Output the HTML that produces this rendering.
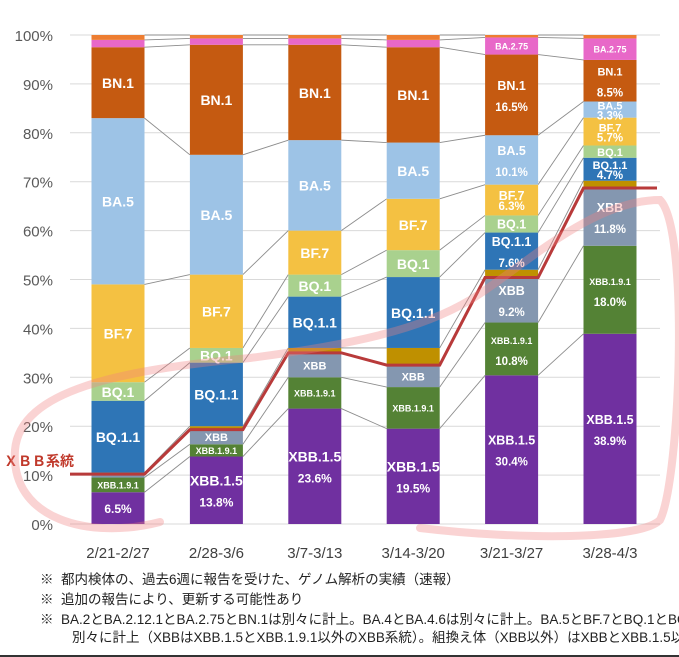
<!DOCTYPE html>
<html><head><meta charset="utf-8">
<style>
body{margin:0;width:679px;height:657px;background:#fff;overflow:hidden;position:relative;font-family:"Liberation Sans","Noto Sans CJK JP",sans-serif}
svg{position:absolute;left:0;top:0}
#notes{position:absolute;left:0;top:0;width:679px;height:657px;overflow:hidden}
.note{position:absolute;left:40px;font-size:13.5px;color:#222;white-space:nowrap;font-family:"Liberation Sans","Noto Sans CJK JP",sans-serif}
</style></head>
<body>
<svg id="chart" width="679" height="657"></svg>
<div id="notes">
<div class="note" style="top:568px">※&nbsp; 都内検体の、過去6週に報告を受けた、ゲノム解析の実績（速報）</div>
<div class="note" style="top:588px">※&nbsp; 追加の報告により、更新する可能性あり</div>
<div class="note" style="top:608px">※&nbsp; BA.2とBA.2.12.1とBA.2.75とBN.1は別々に計上。BA.4とBA.4.6は別々に計上。BA.5とBF.7とBQ.1とBQ.1.1は</div>
<div class="note" style="top:626px;left:72px">別々に計上（XBBはXBB.1.5とXBB.1.9.1以外のXBB系統）。組換え体（XBB以外）はXBBとXBB.1.5以外</div>
</div>
<div style="position:absolute;left:0;top:655px;width:679px;height:2px;background:#333"></div>
<script>
const categories=["2/21-2/27","2/28-3/6","3/7-3/13","3/14-3/20","3/21-3/27","3/28-4/3"];
const seriesNames=["XBB.1.5","XBB.1.9.1","XBB","Other recombinant","BQ.1.1","BQ.1","BF.7","BA.5","BN.1","BA.2.75","Other"];
const colors=["#7030a0","#548235","#8497b0","#bf9000","#2e75b6","#a9d18e","#f4c142","#9dc3e6","#c55a11","#e868c8","#ed7d31"];
const vXBB15=[6.5,13.8,23.6,19.5,30.4,38.9];
const vXBB191=[3.0,2.5,6.4,8.5,10.8,18.0];
const vXBB=[0.7,3.0,5.0,4.5,9.2,11.8];
const vRecomb=[0.3,0.7,1.0,3.5,1.6,1.5];
const vBQ11=[14.7,13.0,10.5,14.5,7.6,4.7];
const vBQ1=[3.8,3.0,4.5,5.5,3.5,2.5];
const vBF7=[20.0,15.0,9.0,10.5,6.3,5.7];
const vBA5=[34.0,24.5,18.5,11.5,10.1,3.3];
const vBN1=[14.5,22.5,19.5,19.5,16.5,8.5];
const vBA275=[1.5,1.3,1.3,1.5,3.5,4.4];
const vOther=[1.0,0.7,0.7,1.0,0.5,0.7];
const yTicks=[0,10,20,30,40,50,60,70,80,90,100];
const xbbLineLabel="ＸＢＢ系統";
const labelNames=[["","XBB.1.5","XBB.1.5","XBB.1.5","XBB.1.5","XBB.1.5"],
["XBB.1.9.1","XBB.1.9.1","XBB.1.9.1","XBB.1.9.1","XBB.1.9.1","XBB.1.9.1"],
["","XBB","XBB","XBB","XBB","XBB"],
["","","","","",""],
["BQ.1.1","BQ.1.1","BQ.1.1","BQ.1.1","BQ.1.1","BQ.1.1"],
["BQ.1","BQ.1","BQ.1","BQ.1","BQ.1","BQ.1"],
["BF.7","BF.7","BF.7","BF.7","BF.7","BF.7"],
["BA.5","BA.5","BA.5","BA.5","BA.5","BA.5"],
["BN.1","BN.1","BN.1","BN.1","BN.1","BN.1"],
["","","","","BA.2.75","BA.2.75"],
["","","","","",""]];
const pctShown=[[1,1,1,1,1,1],[0,0,0,0,1,1],[0,0,0,0,1,1],[0,0,0,0,0,0],[0,0,0,0,1,1],[0,0,0,0,0,0],[0,0,0,0,1,1],[0,0,0,0,1,1],[0,0,0,0,1,1],[0,0,0,0,0,0],[0,0,0,0,0,0]];
const series=[vXBB15,vXBB191,vXBB,vRecomb,vBQ11,vBQ1,vBF7,vBA5,vBN1,vBA275,vOther];

const NS="http://www.w3.org/2000/svg";
const svg=document.getElementById('chart');
const y=v=>524-v*4.89;
const xc=i=>118+i*98.4;
const BW=53;
function mk(t,a,p){const e=document.createElementNS(NS,t);for(const k in a)e.setAttribute(k,a[k]);(p||svg).appendChild(e);return e;}
yTicks.forEach(t=>{
  const g=mk('line',{x1:70,x2:660,y1:y(t),y2:y(t),stroke:'#d9d9d9','stroke-width':1});
  
  
  const l=mk('text',{x:53,y:y(t)+6,'text-anchor':'end','font-size':15,fill:'#595959'});
  l.textContent=t+'%';
  
  
});
const cum=categories.map((c,i)=>{let s=0;return series.map(ser=>{const b=s;s+=ser[i];return [b,s];});});
for(let i=0;i<categories.length-1;i++){
  for(let k=0;k<series.length;k++){
    const v=cum[i][k][1],w=cum[i+1][k][1];
    const c=mk('line',{x1:xc(i)+BW/2,y1:y(v),x2:xc(i+1)-BW/2,y2:y(w),stroke:'#8c8c8c','stroke-width':0.9});
    
    
  }
}
categories.forEach((cat,i)=>{
  series.forEach((ser,k)=>{
    const [b,t]=cum[i][k];
    const r=mk('rect',{x:xc(i)-BW/2,y:y(t),width:BW,height:Math.max(0,y(b)-y(t)),fill:colors[k]});
    
    
  });
  const xl=mk('text',{x:xc(i),y:558,'text-anchor':'middle','font-size':15,fill:'#404040'});
  xl.textContent=cat;
  
  
});
categories.forEach((cat,i)=>{
  series.forEach((ser,k)=>{
    const [b,t]=cum[i][k];const h=y(b)-y(t);const cy=(y(b)+y(t))/2;
    const name=labelNames[k][i];const pct=pctShown[k][i];
    const small=name.startsWith('XBB.1.9')||name==='BA.2.75'||(i==5&&k<9&&k>3)||name==='XBB'&&h<30;
    const fs=name.startsWith('XBB.1.9')?9:(name==='BA.2.75'?9:(small?11:(i>=4?12.5:14)));
    if(name&&pct){
      const a=mk('text',{x:xc(i),y:cy-(h>34?5:0),'text-anchor':'middle','font-size':fs,'font-weight':'bold',fill:'#fff'});
      a.textContent=name;
      
      
      const p=mk('text',{x:xc(i),y:cy+(h>34?16:10),'text-anchor':'middle','font-size':i>=4?11.5:12,'font-weight':'bold',fill:'#fff'});
      p.textContent=ser[i].toFixed(1)+'%';
      
      
    } else if(name){
      const a=mk('text',{x:xc(i),y:cy+fs*0.38,'text-anchor':'middle','font-size':fs,'font-weight':'bold',fill:'#fff'});
      a.textContent=name;
      
      
    } else if(pct){
      const p=mk('text',{x:xc(i),y:cy+5,'text-anchor':'middle','font-size':12,'font-weight':'bold',fill:'#fff'});
      p.textContent=ser[i].toFixed(1)+'%';
      
      
    }
  });
});
// XBB lineage red line (top of XBB band)
let pts=[[70,y(cum[0][2][1])]];
categories.forEach((c,i)=>{const v=y(cum[i][2][1]);pts.push([xc(i)-BW/2,v]);pts.push([xc(i)+BW/2,v]);});
pts.push([657,pts[pts.length-1][1]]);
const rl=mk('polyline',{points:pts.map(p=>p.join(',')).join(' '),fill:'none',stroke:'#b83a3a','stroke-width':3});


const rt=mk('text',{x:4,y:466,'font-size':14,'font-weight':'bold',fill:'#c0392b'});
rt.textContent=xbbLineLabel;


const hl=mk('path',{d:'M160 522 C90 540 10 520 15 450 C20 390 120 370 250 358 C350 345 420 330 470 300 C520 270 590 200 660 200 C690 230 680 480 660 520 C640 540 520 540 420 528',fill:'none',stroke:'#f08080','stroke-width':8,'stroke-opacity':0.35,'stroke-linecap':'round'});


</script>
</body></html>
